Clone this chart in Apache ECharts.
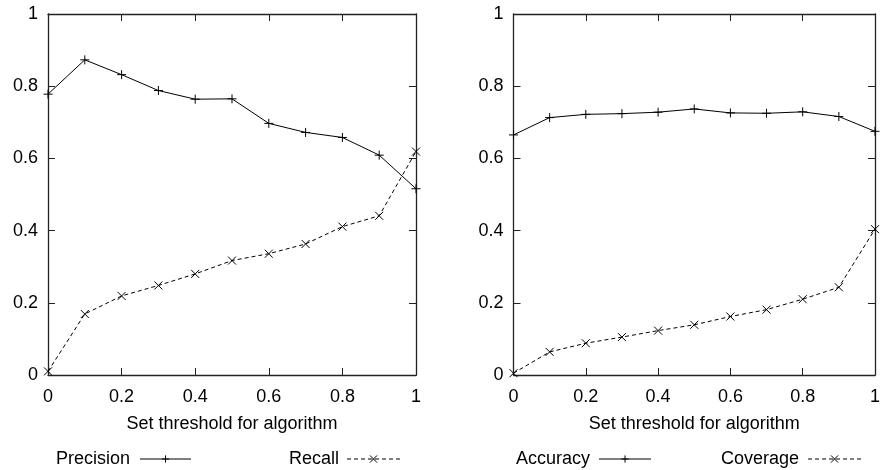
<!DOCTYPE html>
<html>
<head>
<meta charset="utf-8">
<script src="https://cdn.jsdelivr.net/npm/echarts@6/dist/echarts.min.js"></script>
<style>
  html, body { margin: 0; padding: 0; background: #fff; }
  #chart { width: 883px; height: 470px; }
</style>
</head>
<body>
<div id="chart"></div>
<script>
// Threshold values shared by both panels
const thresholds = [0, 0.1, 0.2, 0.3, 0.4, 0.5, 0.6, 0.7, 0.8, 0.9, 1];

// Left panel
const precision = [0.778, 0.873, 0.832, 0.788, 0.764, 0.765, 0.697, 0.672, 0.658, 0.609, 0.516];
const recall    = [0.010, 0.169, 0.219, 0.248, 0.280, 0.317, 0.336, 0.363, 0.411, 0.441, 0.619];

// Right panel
const accuracy  = [0.665, 0.713, 0.722, 0.724, 0.728, 0.737, 0.726, 0.725, 0.729, 0.716, 0.675];
const coverage  = [0.005, 0.064, 0.088, 0.105, 0.123, 0.139, 0.162, 0.181, 0.210, 0.243, 0.404];

const xAxisTitle = 'Set threshold for algorithm';
const axisMin = 0, axisMax = 1, axisStep = 0.2;

const FONT = '"Liberation Sans", Arial, Helvetica, sans-serif';
const PLUS = 'path://M5,0L5,10M0,5L10,5';
const CROSS = 'path://M0,0L10,10M0,10L10,0';

const pairs = ys => thresholds.map((x, i) => [x, ys[i]]);

const tickCommon = { show: true, inside: true, length: 7, lineStyle: { color: '#222', width: 1 } };
const lineCommon = { show: true, onZero: false, lineStyle: { color: '#222', width: 1.3 } };
const labelStyle = { color: '#000', fontSize: 18, fontFamily: FONT };

function xAxes(gridIndex) {
  return [
    {
      type: 'value', gridIndex, position: 'bottom', min: axisMin, max: axisMax, interval: axisStep,
      axisLine: lineCommon, axisTick: tickCommon, splitLine: { show: false },
      axisLabel: Object.assign({ margin: 13 }, labelStyle),
      name: xAxisTitle, nameLocation: 'middle', nameGap: 40,
      nameTextStyle: labelStyle
    },
    {
      type: 'value', gridIndex, position: 'top', min: axisMin, max: axisMax, interval: axisStep,
      axisLine: lineCommon, axisTick: tickCommon, splitLine: { show: false },
      axisLabel: { show: false }
    }
  ];
}

function yAxes(gridIndex) {
  return [
    {
      type: 'value', gridIndex, position: 'left', min: axisMin, max: axisMax, interval: axisStep,
      axisLine: lineCommon, axisTick: tickCommon, splitLine: { show: false },
      axisLabel: Object.assign({ margin: 10 }, labelStyle)
    },
    {
      type: 'value', gridIndex, position: 'right', min: axisMin, max: axisMax, interval: axisStep,
      axisLine: lineCommon, axisTick: tickCommon, splitLine: { show: false },
      axisLabel: { show: false }
    }
  ];
}

function lineSeries(name, ys, axisIdx, dashed) {
  return {
    name, type: 'line', data: pairs(ys),
    xAxisIndex: axisIdx, yAxisIndex: axisIdx,
    clip: false, silent: true, animation: false,
    symbol: dashed ? CROSS : PLUS,
    symbolSize: dashed ? 8 : 9,
    showAllSymbol: true,
    lineStyle: { color: '#000', width: 1, type: dashed ? [4, 3] : 'solid' },
    itemStyle: { color: 'transparent', borderColor: '#000', borderWidth: 1 }
  };
}

function legendFor(name, left, width, gap) {
  return {
    data: [name], left, top: 450, padding: 0, align: 'right', orient: 'horizontal',
    itemWidth: width, itemHeight: 9, selectedMode: false,
    textStyle: Object.assign({ padding: [0, gap, 0, 0] }, labelStyle),
    lineStyle: { width: 1 },
    itemStyle: { borderWidth: 1, borderColor: '#000' },
    inactiveColor: '#000'
  };
}

const chart = echarts.init(document.getElementById('chart'), null, { renderer: 'canvas' });
chart.setOption({
  animation: false,
  backgroundColor: '#fff',
  grid: [
    { left: 48, top: 14, width: 368, height: 361 },
    { left: 513.5, top: 14, width: 368, height: 361 }
  ],
  xAxis: [...xAxes(0), ...xAxes(1)],
  yAxis: [...yAxes(0), ...yAxes(1)],
  legend: [
    legendFor('Precision', 56, 51, 5),
    legendFor('Recall', 289, 53, 3),
    legendFor('Accuracy', 516, 52, 4),
    legendFor('Coverage', 721, 53, 4)
  ],
  series: [
    lineSeries('Precision', precision, 0, false),
    lineSeries('Recall', recall, 0, true),
    lineSeries('Accuracy', accuracy, 2, false),
    lineSeries('Coverage', coverage, 2, true)
  ]
});
</script>
</body>
</html>
